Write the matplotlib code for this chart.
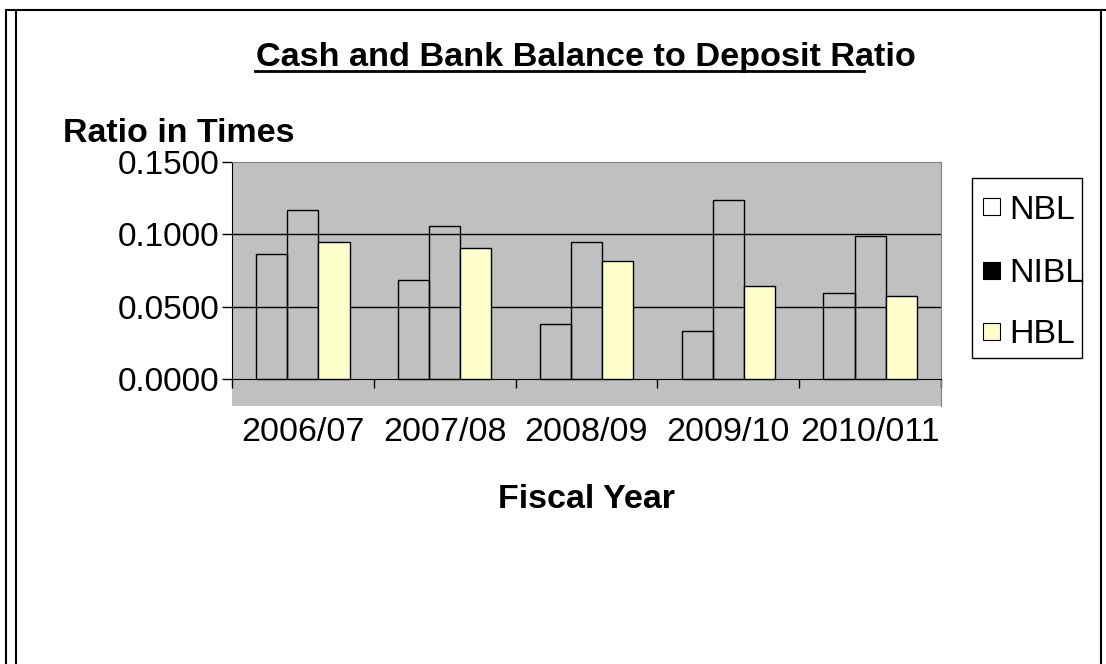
import matplotlib.pyplot as plt
from matplotlib.lines import Line2D
from matplotlib.patches import Rectangle

plt.rcParams["font.family"] = ["Liberation Sans", "DejaVu Sans"]

# data
years = ["2006/07", "2007/08", "2008/09", "2009/10", "2010/011"]
banks = ["NBL", "NIBL", "HBL"]
nbl = [0.0862, 0.0684, 0.0378, 0.0334, 0.0596]
nibl = [0.1168, 0.1059, 0.0949, 0.1235, 0.0990]
hbl = [0.0949, 0.0903, 0.0817, 0.0640, 0.0573]
y_ticks = [0.0, 0.05, 0.10, 0.15]

W, H = 1106, 664
fig = plt.figure(figsize=(W / 100, H / 100), dpi=100)
ax = fig.add_axes([232 / W, 1 - 406 / H, (941 - 232) / W, (406 - 162) / H])
ax.set_facecolor("#C0C0C0")

width = 0.22
x = list(range(len(years)))
series = [nbl, nibl, hbl]
faces = ["none", "none", "#FFFFCC"]
legend_faces = ["white", "black", "#FFFFCC"]
for i, (vals, fc) in enumerate(zip(series, faces)):
    pos = [xi + (i - 1) * width for xi in x]
    ax.bar(pos, vals, width, facecolor=fc, edgecolor="black", linewidth=1, zorder=3)

ax.set_xlim(-0.5, len(years) - 0.5)
ax.set_ylim(-0.01866, 0.15)

for t in y_ticks[1:-1]:
    ax.axhline(t, color="black", linewidth=1, zorder=1)

ax.set_yticks(y_ticks)
ax.set_yticklabels([f"{t:.4f}" for t in y_ticks])
ax.tick_params(axis="y", length=7, width=1, pad=2, labelsize=24, direction="out")

ax.set_xticks(x)
ax.set_xticklabels(years)
ax.set_xticks([xi - 0.5 for xi in x] + [len(years) - 0.5], minor=True)
ax.tick_params(axis="x", which="major", length=0, pad=27, labelsize=24.5)
ax.tick_params(axis="x", which="minor", length=6.5, width=1, direction="out")

ax.spines["bottom"].set_position(("data", 0))
ax.spines["bottom"].set_color("black")
ax.spines["left"].set_bounds(0, 0.15)
ax.spines["left"].set_color("black")
for s in ["top", "right"]:
    ax.spines[s].set_color("#808080")

# legend box drawn by hand to match the original's narrow frame
fig.add_artist(Rectangle((972 / W, 1 - 358 / H), 110 / W, 180 / H, transform=fig.transFigure,
                         facecolor="white", edgecolor="black", linewidth=1))
row_y = [207, 270, 331]
for name, fc, ry in zip(banks, legend_faces, row_y):
    fig.add_artist(Rectangle((983 / W, 1 - (ry + 8.5) / H), 17 / W, 17 / H,
                             transform=fig.transFigure, facecolor=fc, edgecolor="black",
                             linewidth=0.8))
    fig.text(1009 / W, 1 - ry / H, name, ha="left", va="center_baseline", fontsize=24.5)

fig.text(586 / W, 1 - 66 / H, "Cash and Bank Balance to Deposit Ratio", ha="center",
         va="baseline", fontsize=24.7, fontweight="bold")
fig.add_artist(Line2D([255 / W, 864 / W], [1 - 71 / H, 1 - 71 / H], color="black", linewidth=2))
fig.text(63 / W, 1 - 142 / H, "Ratio in Times", ha="left", va="baseline", fontsize=24.5,
         fontweight="bold")
fig.text(586 / W, 1 - 508 / H, "Fiscal Year", ha="center", va="baseline", fontsize=24.5,
         fontweight="bold")

# outer border lines
for xs, ys in [([6, 6], [10, H]), ([15.5, 15.5], [10, H]), ([6, W], [10, 10]),
               ([1101, 1101], [10, H])]:
    fig.add_artist(Line2D([v / W for v in xs], [1 - v / H for v in ys], color="black",
                          linewidth=1.5))

fig.savefig("out.png", dpi=100)
